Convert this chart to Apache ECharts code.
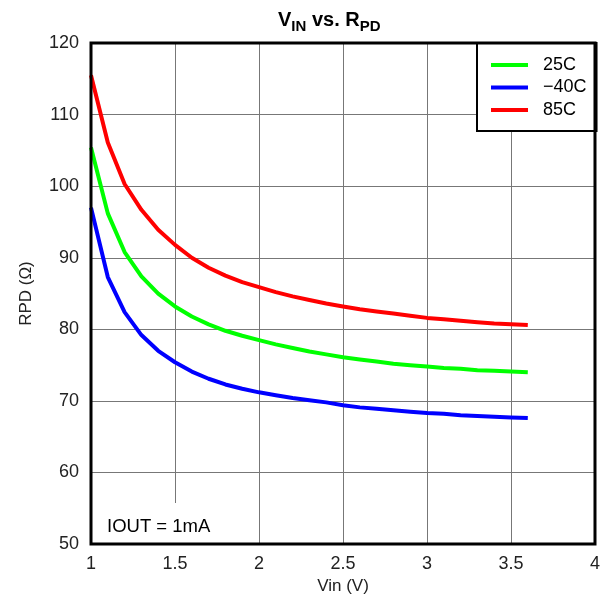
<!DOCTYPE html>
<html>
<head>
<meta charset="utf-8">
<script src="https://cdn.jsdelivr.net/npm/echarts@6/dist/echarts.min.js"></script>
<style>html,body{margin:0;padding:0;background:#fff}#c{width:603px;height:600px}</style>
</head>
<body>
<div id="c"></div>
<script>
const vin = [1.0,1.1,1.2,1.3,1.4,1.5,1.6,1.7,1.8,1.9,2.0,2.1,2.2,2.3,2.4,2.5,2.6,2.7,2.8,2.9,3.0,3.1,3.2,3.3,3.4,3.5,3.6];
const rpd25 = [105.4,96.2,90.8,87.4,85.0,83.2,81.8,80.7,79.8,79.1,78.5,77.9,77.4,76.9,76.5,76.1,75.8,75.5,75.2,75.0,74.8,74.6,74.5,74.3,74.2,74.1,74.0];
const rpdM40 = [97.0,87.3,82.4,79.2,77.0,75.4,74.1,73.1,72.3,71.7,71.2,70.8,70.4,70.1,69.8,69.4,69.1,68.9,68.7,68.5,68.3,68.2,68.0,67.9,67.8,67.7,67.6];
const rpd85 = [115.5,106.1,100.3,96.7,93.9,91.8,90.0,88.6,87.5,86.6,85.9,85.2,84.6,84.1,83.6,83.2,82.8,82.5,82.2,81.9,81.6,81.4,81.2,81.0,80.8,80.7,80.6];
const seriesNames = ['25C','\u221240C','85C'];
const xTicks = [1,1.5,2,2.5,3,3.5,4];
const yTicks = [50,60,70,80,90,100,110,120];

const FONT = 'Liberation Sans, Arial, sans-serif';
const pair = (xs, ys) => xs.map((x,i)=>[x, ys[i]]);
const chart = echarts.init(document.getElementById('c'));
const lineSeries = (name, data, color) => ({
  name, type:'line', data, showSymbol:false, symbol:'none', smooth:false,
  lineStyle:{color, width:4}, itemStyle:{color}, z:3, animation:false
});
chart.setOption({
  animation:false,
  textStyle:{fontFamily:FONT},
  title:{
    text:'{a|V}{s|IN}{a| vs. R}{s|PD}',
    left:278, top:8, padding:0,
    textStyle:{rich:{
      a:{fontSize:20, fontWeight:'bold', color:'#000', fontFamily:FONT, lineHeight:22, verticalAlign:'bottom'},
      s:{fontSize:15, fontWeight:'bold', color:'#000', fontFamily:FONT, lineHeight:22, verticalAlign:'bottom', padding:[0,0,-4,0]}
    }}
  },
  legend:{
    data:seriesNames,
    left:477, top:43,
    orient:'vertical',
    backgroundColor:'#fff', borderColor:'#000', borderWidth:2,
    padding:[13,10,12,14],
    icon:'rect', itemWidth:37, itemHeight:4, itemGap:4.5,
    textStyle:{fontSize:18, lineHeight:18, color:'#000', fontFamily:FONT, padding:[0,0,0,10]}
  },
  grid:{left:91, right:6, top:43, bottom:52, show:true, z:10, borderColor:'#000', borderWidth:3, backgroundColor:'transparent'},
  xAxis:{
    type:'value', min:1, max:4, interval:0.5,
    name:'Vin (V)', nameLocation:'middle', nameGap:33,
    nameTextStyle:{fontSize:17, color:'#222', fontFamily:FONT},
    axisLine:{show:false},
    axisTick:{show:false},
    axisLabel:{fontSize:18, color:'#222', margin:11, fontFamily:FONT, formatter:v=>xTicks.includes(v)?String(v):''},
    splitLine:{show:true, lineStyle:{color:'#777', width:1}}
  },
  yAxis:{
    type:'value', min:50, max:120, interval:10,
    name:'RPD (\u03A9)', nameLocation:'middle', nameGap:56, nameRotate:90,
    nameTextStyle:{fontSize:17, color:'#222', fontFamily:FONT},
    axisLine:{show:false},
    axisTick:{show:false},
    axisLabel:{fontSize:18, color:'#222', margin:12, fontFamily:FONT, formatter:v=>yTicks.includes(v)?String(v):''},
    splitLine:{show:true, lineStyle:{color:'#777', width:1}}
  },
  graphic:[
    {type:'rect', left:94, top:503, shape:{width:140, height:43}, style:{fill:'#fff'}, z:2},
    {type:'text', left:107, top:517, style:{text:'IOUT = 1mA', fontSize:18.5, fill:'#000', fontFamily:FONT}, z:4}
  ],
  series:[
    lineSeries(seriesNames[0], pair(vin, rpd25), '#00ff00'),
    lineSeries(seriesNames[1], pair(vin, rpdM40), '#0000ff'),
    lineSeries(seriesNames[2], pair(vin, rpd85), '#ff0000')
  ]
});
</script>
</body>
</html>
